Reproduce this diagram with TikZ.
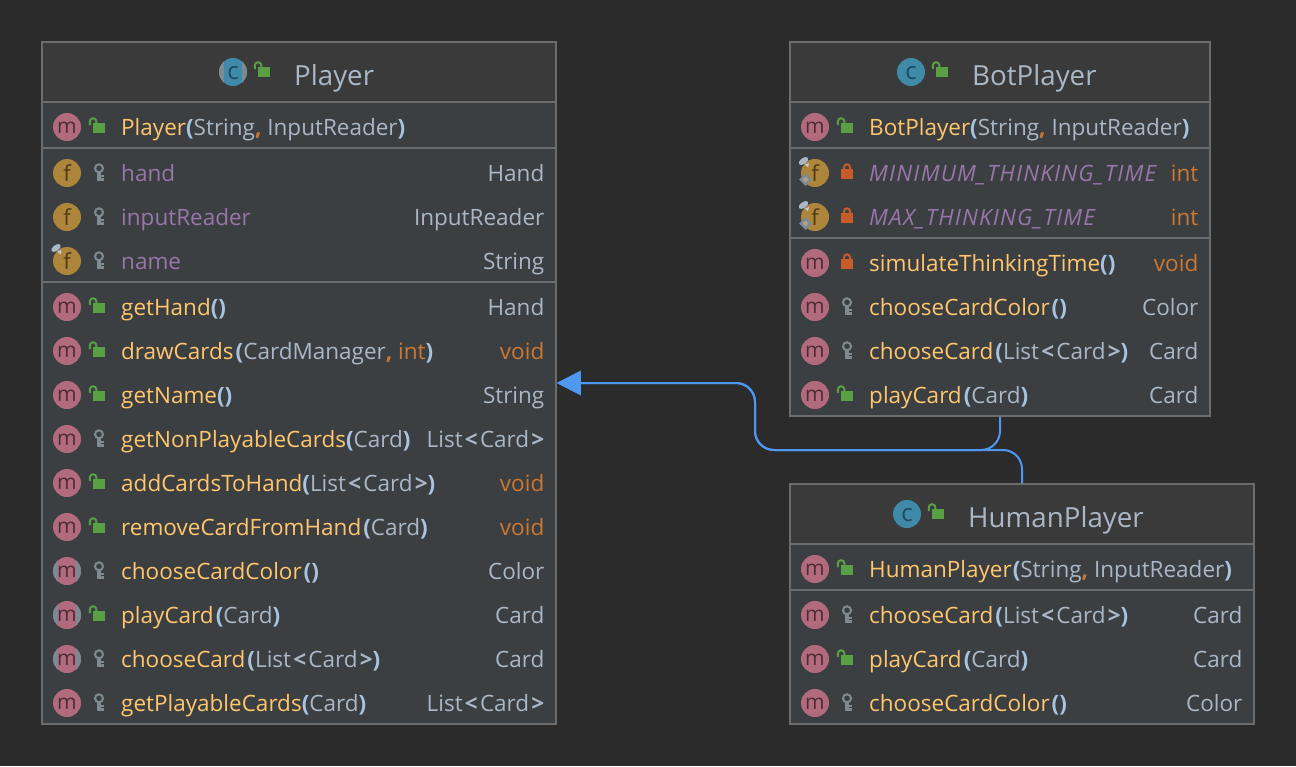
\documentclass[tikz,border=0pt]{standalone}
\usepackage{fontspec}
\setmainfont{Open Sans}
\definecolor{bgcol}{HTML}{2B2B2B}
\definecolor{bodycol}{HTML}{3C3F41}
\definecolor{headcol}{HTML}{3A3A3A}
\definecolor{edgecol}{HTML}{6C6C6C}
\definecolor{methodcol}{HTML}{FFC66D}
\definecolor{typecol}{HTML}{A9B7C6}
\definecolor{parencol}{HTML}{A9C4E0}
\definecolor{keywordcol}{HTML}{CC7832}
\definecolor{fieldcol}{HTML}{9876AA}
\definecolor{titlecol}{HTML}{A9B7C6}
\definecolor{mpink}{HTML}{B26B7E}
\definecolor{mdark}{HTML}{4E2C36}
\definecolor{fgold}{HTML}{AD853B}
\definecolor{fdark}{HTML}{4E3A18}
\definecolor{cblue}{HTML}{3F8AA8}
\definecolor{cdark}{HTML}{1F4A5C}
\definecolor{abstractcol}{HTML}{7C8A94}
\definecolor{pubcol}{HTML}{59A045}
\definecolor{privcol}{HTML}{C75C2A}
\definecolor{keycol}{HTML}{7F8B91}
\definecolor{arrowcol}{HTML}{4F98F2}
\usetikzlibrary{arrows.meta}

\newcommand{\mn}[1]{\textcolor{methodcol}{#1}}
\newcommand{\fn}[1]{\textcolor{fieldcol}{\itshape\addfontfeature{LetterSpace=5.2}#1}}
\newcommand{\kw}[1]{\textcolor{keywordcol}{#1}}
\newcommand{\lp}{\textcolor{parencol}{\textbf{(}}}
\newcommand{\rp}{\textcolor{parencol}{\textbf{)}}}
\newcommand{\cm}{\textcolor{keywordcol}{\textbf{,}} }
\newcommand{\lst}{List\kern2.2pt\textbf{<}\kern2.2pt Card\kern2.2pt\textbf{>}}
% one member row: name, y, icon style, access pic, text, type
\newcommand{\umlrow}[6]{
	\node[#3] (#1icon) at (\boxleft+25,#2) {};
	\pic at (\boxleft+56,#2) {#4};
	\node[rowtext, anchor=base west] (#1) at (\boxleft+79,#2+8) {#5};
	\node[rowtext, anchor=base east] (#1type) at (\boxright,#2+8) {#6};
}
\newcommand{\sepline}[2]{\draw[sepline] (#1.west |- 0,#2) -- (#1.east |- 0,#2);}

\tikzset{
	umlbox/.style={draw=edgecol, line width=1.5pt, fill=bodycol, inner sep=0pt},
	umlhead/.style={fill=headcol, inner sep=0pt},
	sepline/.style={edgecol, line width=2pt},
	rowtext/.style={inner sep=0pt, text=typecol, font=\fontsize{22.5}{26}\selectfont},
	titletext/.style={inner sep=0pt, text=titlecol, anchor=base west, font=\fontsize{27.7}{32}\selectfont},
	icon/.style={circle, minimum size=28pt, inner sep=0pt},
	micon/.style={icon, fill=mpink, label={[text=mdark, inner sep=0pt, font=\fontsize{21}{21}\selectfont, yshift=-1pt]center:m}},
	ficon/.style={icon, fill=fgold, label={[text=fdark, inner sep=0pt, font=\fontsize{22}{22}\selectfont]center:f}},
	cicon/.style={icon, fill=cblue, label={[text=cdark, inner sep=0pt, font=\fontsize{24}{24}\selectfont, yshift=-1pt]center:c}},
	abssides/.pic={
		\clip (0,0) circle[radius=14];
		\fill[abstractcol] (-15,-15) rectangle (-8.7,15);
		\fill[abstractcol] (8.7,-15) rectangle (15,15);
	},
	pub/.pic={
		\fill[pubcol] (-5,-4.3) rectangle (7,5.7);
		\draw[pubcol, line width=2pt] (-8.2,-2) -- (-8.2,-5.5) arc[start angle=180, end angle=360, radius=3.3] -- (-1.6,-4);
	},
	priv/.pic={
		\fill[privcol] (-5,-4) rectangle (7,6);
		\draw[privcol, line width=2pt] (-2,-4) -- (-2,-5.7) arc[start angle=180, end angle=360, radius=3] -- (4,-4);
	},
	pkg/.pic={
		\draw[keycol, line width=2pt] (1,-4.7) circle[radius=4];
		\fill[keycol] (-0.7,-1) rectangle (2.7,7.5);
		\fill[keycol] (2.7,1.5) rectangle (6,3.5);
		\fill[keycol] (2.7,5.2) rectangle (6,7.5);
	},
	pin/.pic={
		\fill[typecol] (0,0) ellipse[x radius=5.5, y radius=3, rotate=35];
		\fill[typecol!70!white] (1.5,3.5) -- (5.5,2) -- (4.5,6.5) -- cycle;
	},
	stat/.pic={
		\fill[typecol!75!black] (0,-6.5) -- (6.5,0) -- (0,6.5) -- (-6.5,0) -- cycle;
		\fill[typecol!60!fgold] (0,-3) -- (3,0) -- (0,3) -- (-3,0) -- cycle;
	},
	extends/.style={arrowcol, line width=2pt, rounded corners=19pt, -{Triangle[length=24pt, width=24pt]}},
}

\begin{document}
\begin{tikzpicture}[x=1pt, y=-1pt]
	\useasboundingbox[fill=bgcol] (0,0) rectangle (1296,766);

	\node[umlbox, minimum width=514pt, minimum height=682pt] (Player) at (299,383) {};
	\node[umlbox, minimum width=420pt, minimum height=374pt] (BotPlayer) at (1000,229) {};
	\node[umlbox, minimum width=464pt, minimum height=240pt] (HumanPlayer) at (1022,604) {};

	\node[umlhead, minimum width=512pt, minimum height=59pt] (PlayerHead) at (299,72) {};
	\node[umlhead, minimum width=418pt, minimum height=59pt] (BotPlayerHead) at (1000,72) {};
	\node[umlhead, minimum width=462pt, minimum height=59pt] (HumanPlayerHead) at (1022,514) {};

	\sepline{Player}{102}
	\sepline{Player}{148}
	\sepline{Player}{282}
	\sepline{BotPlayer}{102}
	\sepline{BotPlayer}{148}
	\sepline{BotPlayer}{238}
	\sepline{HumanPlayer}{544}
	\sepline{HumanPlayer}{590}

	% titles
	\node[cicon] (PlayerIcon) at (233,72) {};
	\pic at (263,71) {pub};
	\node[titletext] (PlayerTitle) at (294,85) {Player};
	\node[cicon] (BotPlayerIcon) at (911,72) {};
	\pic at (941,71) {pub};
	\node[titletext] (BotPlayerTitle) at (972,85) {BotPlayer};
	\node[cicon] (HumanPlayerIcon) at (907,514) {};
	\pic at (937,513) {pub};
	\node[titletext] (HumanPlayerTitle) at (968,527) {HumanPlayer};

	% Player
	\def\boxleft{42}
	\def\boxright{544.5}
	\umlrow{pa}{127}{micon}{pub}{\mn{Player}\lp String\cm InputReader\rp}{}
	\umlrow{pb}{173}{ficon}{pkg}{\textcolor{fieldcol}{hand}}{Hand}
	\umlrow{pc}{217}{ficon}{pkg}{\textcolor{fieldcol}{inputReader}}{InputReader}
	\umlrow{pd}{261}{ficon}{pkg}{\textcolor{fieldcol}{name}}{String}
	\umlrow{pe}{307}{micon}{pub}{\mn{getHand}\lp\rp}{Hand}
	\umlrow{pf}{351}{micon}{pub}{\mn{drawCards}\kern2pt\lp CardManager\cm\kw{int}\rp}{\kw{void}}
	\umlrow{pg}{395}{micon}{pub}{\mn{getName}\lp\rp}{String}
	\umlrow{ph}{439}{micon}{pkg}{\mn{getNonPlayableCards}\lp Card\rp}{\lst}
	\umlrow{pi}{483}{micon}{pub}{\mn{addCardsToHand}\lp\lst\rp}{\kw{void}}
	\umlrow{pj}{527}{micon}{pub}{\mn{removeCardFromHand}\kern2pt\lp Card\rp}{\kw{void}}
	\umlrow{pk}{571}{micon}{pkg}{\mn{chooseCardColor}\kern2pt\lp\rp}{Color}
	\umlrow{pl}{615}{micon}{pub}{\mn{playCard}\kern2pt\lp Card\rp}{Card}
	\umlrow{pm}{659}{micon}{pkg}{\mn{chooseCard}\kern2pt\lp\lst\rp}{Card}
	\umlrow{pn}{703}{micon}{pkg}{\mn{getPlayableCards}\lp Card\rp}{\lst}
	\pic at (56,248) {pin};
	\foreach \absicon in {PlayerIcon,pkicon,plicon,pmicon} {
		\pic at (\absicon) {abssides};
	}

	% BotPlayer
	\def\boxleft{790}
	\def\boxright{1198.5}
	\umlrow{ba}{127}{micon}{pub}{\mn{BotPlayer}\lp String\cm InputReader\rp}{}
	\umlrow{bb}{173}{ficon}{priv}{\fn{MINIMUM\_THINKING\_TIME}}{\kw{int}}
	\umlrow{bc}{217}{ficon}{priv}{\fn{MAX\_THINKING\_TIME}}{\kw{int}}
	\umlrow{bd}{263}{micon}{priv}{\mn{simulateThinkingTime}\lp\rp}{\kw{void}}
	\umlrow{be}{307}{micon}{pkg}{\mn{chooseCardColor}\kern2pt\lp\rp}{Color}
	\umlrow{bf}{351}{micon}{pkg}{\mn{chooseCard}\kern2pt\lp\lst\rp}{Card}
	\umlrow{bg}{395}{micon}{pub}{\mn{playCard}\kern2pt\lp Card\rp}{Card}
	\pic at (803.5,161) {pin};
	\pic at (805.7,179.5) {stat};
	\pic at (803.5,205) {pin};
	\pic at (805.7,223.5) {stat};

	% HumanPlayer
	\def\boxleft{790}
	\def\boxright{1242.5}
	\umlrow{ha}{569}{micon}{pub}{\mn{HumanPlayer}\kern1pt\lp String\cm InputReader\rp}{}
	\umlrow{hb}{615}{micon}{pkg}{\mn{chooseCard}\kern2pt\lp\lst\rp}{Card}
	\umlrow{hc}{659}{micon}{pub}{\mn{playCard}\kern2pt\lp Card\rp}{Card}
	\umlrow{hd}{703}{micon}{pkg}{\mn{chooseCardColor}\kern2pt\lp\rp}{Color}

	% inheritance
	\coordinate (trunk) at (755,450);
	\draw[extends] (BotPlayer.south) |- (trunk) |- (Player.east);
	\draw[extends] (HumanPlayer.north) |- (trunk) |- (Player.east);
\end{tikzpicture}
\end{document}
